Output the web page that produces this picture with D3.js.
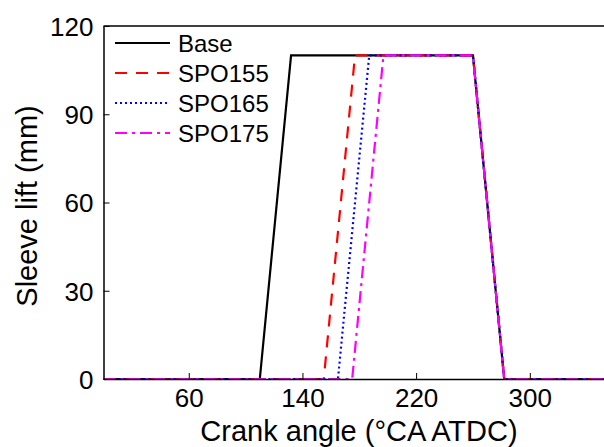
<!DOCTYPE html>
<html>
<head>
<meta charset="utf-8">
<script src="https://cdn.jsdelivr.net/npm/d3@7"></script>
<style>
  body { margin: 0; background: #fff; }
  svg { font-family: "Liberation Sans", Arial, sans-serif; }
</style>
</head>
<body>
<svg id="chart" width="604" height="447"></svg>
<script>
// Data (crank angle in deg, sleeve lift in mm)
const seriesNames = ["Base", "SPO155", "SPO165", "SPO175"];
const baseAngle = [0, 110, 132, 260, 282, 360];
const spo155Angle = [0, 155, 177, 260, 282, 360];
const spo165Angle = [0, 165, 187, 260, 282, 360];
const spo175Angle = [0, 175, 197, 260, 282, 360];
const liftValues = [0, 0, 110, 110, 0, 0];
const xTicks = [60, 140, 220, 300];
const yTicks = [0, 30, 60, 90, 120];

const colors = ["#000000", "#ff0000", "#0000ff", "#ff00ff"];
const dashes = [null, "12,9", "2,3", "12,5,3,5"];
const angles = [baseAngle, spo155Angle, spo165Angle, spo175Angle];

const svg = d3.select("#chart");

// plot area
const plotLeft = 103.5, plotTop = 26, plotBottom = 379;
const x = d3.scaleLinear().domain([0, 360]).range([plotLeft, plotLeft + 360 * 1.421]);
const y = d3.scaleLinear().domain([0, 120]).range([plotBottom, plotTop]);

svg.append("clipPath").attr("id", "clip")
  .append("rect")
  .attr("x", plotLeft).attr("y", plotTop - 2)
  .attr("width", 604 - plotLeft).attr("height", plotBottom - plotTop + 4);

// lines
const line = d3.line()
  .x(d => x(d[0]))
  .y(d => y(d[1]));

const plot = svg.append("g").attr("clip-path", "url(#clip)");
seriesNames.forEach((name, i) => {
  const pts = angles[i].map((a, j) => [a, liftValues[j]]);
  plot.append("path")
    .datum(pts)
    .attr("fill", "none")
    .attr("stroke", colors[i])
    .attr("stroke-width", 2.2)
    .attr("stroke-dasharray", dashes[i])
    .attr("d", line);
});

// axes (ticks inward)
const xAxis = d3.axisBottom(x).tickValues(xTicks).tickSizeInner(-6).tickSizeOuter(0).tickPadding(10);
const yAxis = d3.axisLeft(y).tickValues(yTicks).tickSizeInner(-6).tickSizeOuter(0).tickPadding(10);

const gx = svg.append("g")
  .attr("transform", `translate(0,${plotBottom})`)
  .call(xAxis);
const gy = svg.append("g")
  .attr("transform", `translate(${plotLeft},0)`)
  .call(yAxis);

[gx, gy].forEach(g => {
  g.select(".domain").attr("stroke", "#000").attr("stroke-width", 1.5);
  g.selectAll(".tick line").attr("stroke", "#000").attr("stroke-width", 1);
  g.selectAll(".tick text").attr("fill", "#000").attr("font-size", 26)
    .attr("font-family", "Liberation Sans, Arial, sans-serif");
});
gy.selectAll(".tick text").attr("dy", "0.36em");

// top frame line
svg.append("line")
  .attr("x1", plotLeft).attr("x2", 604)
  .attr("y1", y(120)).attr("y2", y(120))
  .attr("stroke", "#000").attr("stroke-width", 1.5);

// axis titles
svg.append("text")
  .attr("x", (196 + 522) / 2).attr("y", 441)
  .attr("text-anchor", "middle")
  .attr("font-size", 29)
  .text("Crank angle (°CA ATDC)");

svg.append("text")
  .attr("transform", `translate(37,206) rotate(-90)`)
  .attr("text-anchor", "middle")
  .attr("font-size", 29)
  .text("Sleeve lift (mm)");

// legend
const legend = svg.append("g");
seriesNames.forEach((name, i) => {
  const ly = 43 + i * 30;
  legend.append("line")
    .attr("x1", 115).attr("x2", 170)
    .attr("y1", ly).attr("y2", ly)
    .attr("stroke", colors[i])
    .attr("stroke-width", 2.2)
    .attr("stroke-dasharray", dashes[i]);
  legend.append("text")
    .attr("x", 178).attr("y", ly)
    .attr("dy", "0.36em")
    .attr("font-size", 24)
    .text(name);
});
</script>
</body>
</html>
